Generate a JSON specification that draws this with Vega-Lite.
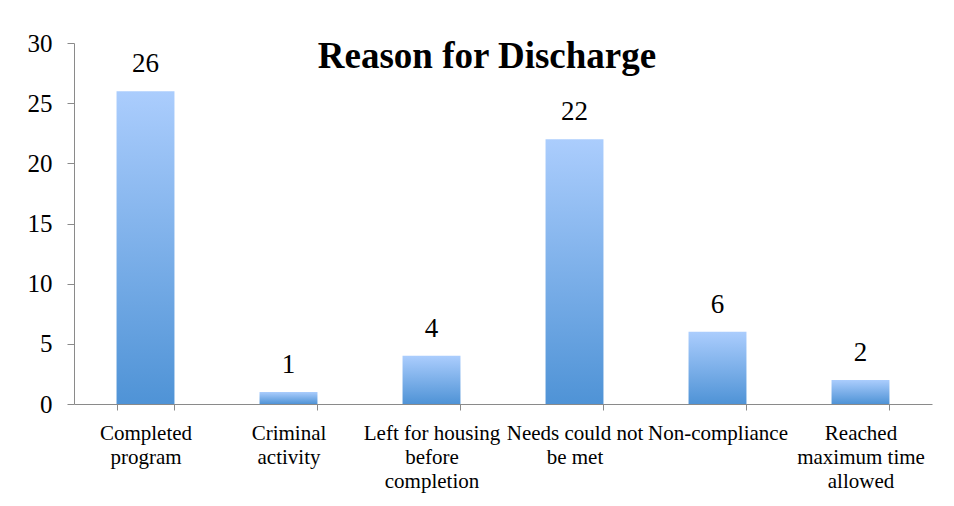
{
  "$schema": "https://vega.github.io/schema/vega-lite/v6.json",
  "width": 858,
  "height": 361,
  "autosize": {"type": "none"},
  "padding": {"left": 74, "top": 43, "right": 22, "bottom": 102},
  "background": "white",
  "title": {
    "text": "Reason for Discharge",
    "font": "Times New Roman, Liberation Serif, DejaVu Serif, serif",
    "fontSize": 37,
    "fontWeight": "bold",
    "color": "black",
    "anchor": "middle",
    "baseline": "alphabetic",
    "dx": -16,
    "dy": 78
  },
  "data": {
    "values": [
      {"reason": "Completed program", "count": 26},
      {"reason": "Criminal activity", "count": 1},
      {"reason": "Left for housing before completion", "count": 4},
      {"reason": "Needs could not be met", "count": 22},
      {"reason": "Non-compliance", "count": 6},
      {"reason": "Reached maximum time allowed", "count": 2}
    ]
  },
  "encoding": {
    "x": {
      "field": "reason",
      "type": "nominal",
      "sort": null,
      "scale": {"paddingInner": 0.595, "paddingOuter": 0.2975},
      "axis": {
        "title": null,
        "labelAngle": 0,
        "tickBand": "extent",
        "labelFont": "Times New Roman, Liberation Serif, DejaVu Serif, serif",
        "labelFontSize": 21,
        "labelColor": "black",
        "labelPadding": 12,
        "labelLineHeight": 24,
        "labelLimit": 0,
        "domainColor": "#8a8a8a",
        "tickColor": "#8a8a8a",
        "tickSize": 6,
        "labelExpr": "datum.value == 'Completed program' ? ['Completed', 'program'] : datum.value == 'Criminal activity' ? ['Criminal', 'activity'] : datum.value == 'Left for housing before completion' ? ['Left for housing', 'before', 'completion'] : datum.value == 'Needs could not be met' ? ['Needs could not', 'be met'] : datum.value == 'Reached maximum time allowed' ? ['Reached', 'maximum time', 'allowed'] : datum.value"
      }
    },
    "y": {
      "field": "count",
      "type": "quantitative",
      "scale": {"domain": [0, 30]},
      "axis": {
        "title": null,
        "values": [0, 5, 10, 15, 20, 25, 30],
        "grid": false,
        "labelFont": "Times New Roman, Liberation Serif, DejaVu Serif, serif",
        "labelFontSize": 25,
        "labelColor": "black",
        "labelPadding": 15,
        "domainColor": "#8a8a8a",
        "tickColor": "#8a8a8a",
        "tickSize": 7
      }
    }
  },
  "layer": [
    {
      "mark": {
        "type": "bar",
        "color": {
          "gradient": "linear",
          "x1": 0, "y1": 0, "x2": 0, "y2": 1,
          "stops": [
            {"offset": 0, "color": "#abcdfd"},
            {"offset": 1, "color": "#4f93d6"}
          ]
        }
      }
    },
    {
      "mark": {
        "type": "text",
        "font": "Times New Roman, Liberation Serif, DejaVu Serif, serif",
        "fontSize": 27,
        "color": "black",
        "baseline": "alphabetic",
        "dy": -19
      },
      "encoding": {"text": {"field": "count", "type": "quantitative"}}
    }
  ],
  "config": {"view": {"stroke": null}}
}
